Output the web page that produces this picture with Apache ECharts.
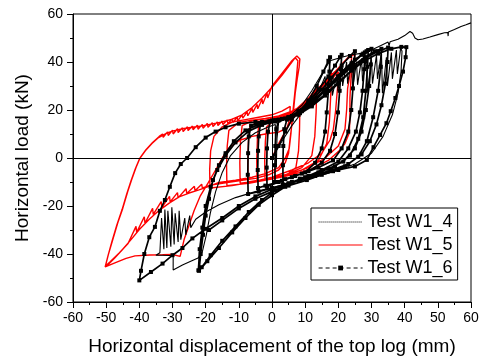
<!DOCTYPE html>
<html>
<head>
<meta charset="utf-8">
<script src="https://cdn.jsdelivr.net/npm/echarts@6/dist/echarts.min.js"></script>
<style>
html, body { margin: 0; padding: 0; background: #fff; }
#chart { width: 482px; height: 361px; }
</style>
</head>
<body>
<div id="chart"></div>
<script>
// Hysteresis of log-wall tests: horizontal displacement (mm) vs horizontal load (kN)
const xTicks = [-60, -50, -40, -30, -20, -10, 0, 10, 20, 30, 40, 50, 60];
const yTicks = [-60, -40, -20, 0, 20, 40, 60];
const seriesNames = ['Test W1_4', 'Test W1_5', 'Test W1_6'];

// Test W1_5: [displacement, load]
const w1_5 = [
  [0,0],[2,6],[4,11],[6,16],[8.4,21],
  [8.3,12],[8,3],[7.2,-4],[4,-7.5],[0,-8.5],[-2.1,-9],
  [-2.2,-1],[-2,7],[-1.6,13],[0.5,15.5],[4,17],[8,20.5],[11,25],[13.5,29],
  [13.3,19],[12.9,9],[12,1],[9,-4],[4,-7],[-1,-8.5],[-4.5,-9.5],
  [-4.6,-1],[-4.4,8],[-4,14],[-1,15.5],[3,16.8],[7,19.5],[11,24],[15,30],[18,35.5],
  [17.7,26],[17.3,15],[16.5,6],[14,-1],[9,-5],[3,-7.5],[-3,-9],[-7.2,-10],
  [-7.3,-2],[-7.1,7],[-6.6,13.5],[-3,15.3],[1,16.5],[6,18.5],[10,22.5],[14,28],[18,34],[21,39],[23,42],[25,43.2],
  [24.8,41],[23.8,33],[23.5,25],[23.5,17],[23.3,10.4],[22,6],[20.5,3.3],[17,-1],[12,-4.5],[6,-7],[0,-8.8],[-5,-9.8],[-9.6,-10.5],
  [-9.7,-2],[-9.5,7],[-9,13.5],[-6,15.5],[-2,16.3],[3,17.5],[7,20],[11,25],[15,30.5],[19,36],[22,40.5],[24,42.5],
  [23.8,37],[22.8,29],[22.5,20],[22,12],[20,5],[16,0],[11,-4],[5,-7],[-1,-9],[-7,-10.5],[-13.6,-11.5],
  [-13.7,-3],[-13.5,5],[-13,11.5],[-10,14.8],[-6,15.8],[-2,16.5],[2,17.5],[6,19.5],[10,22.5],[14,27],[17.5,32],[20,36],
  [19.8,30],[19.2,20],[18.5,12],[17.5,7.5],[15,2],[11,-2],[6,-5],[0,-8],[-6,-10],[-12,-11.5],[-18.7,-12.5],
  [-18.8,-5],[-18.5,3],[-17.5,9],[-15,13],[-12,15],[-8,16],[-4,17],[0,18],[3,19.5],[5.5,21.5],
  [5.3,16],[4.5,12.5],[2,10.8],[-2,10],[-6,9],[-9.5,7.5],[-12.7,4.6],[-15,0],[-17,-5],[-19.3,-10.5],[-21.7,-16],[-23.5,-22],[-25,-28],[-26.5,-34],[-27.7,-41],
  [-30,-40.2],[-33,-40.3],[-36.8,-40.4],[-41.3,-40.8],[-44,-41.8],[-47,-43.5],[-50.3,-45.4],
  [-49.3,-40],[-48,-34],[-46.5,-27],[-45,-21],[-43.5,-14],[-42.3,-9],[-41,-4],[-39.8,0],[-38,3.5],[-36,6.5],[-34,9],
  [-33,10],[-32.8,8.6],[-31.5,10.9],[-31.3,9.4],[-30,11.6],[-29.8,10],[-28.5,12.2],[-28.3,10.6],[-27,12.6],[-26.8,11],
  [-25.5,13],[-25.3,11.4],[-24,13.3],[-23.8,11.8],[-22.5,13.7],[-22.3,12],[-21,14],[-20.8,12.4],[-19.5,14.4],[-19.3,12.8],
  [-18,14.7],[-17.8,13.1],[-16.5,15],[-16.3,13.5],[-15,15.4],[-14.8,13.9],[-13.5,15.8],[-13.3,14.3],[-12,16.3],[-11.8,14.8],
  [-10.5,17],[-10.3,15.6],[-9,18],[-8.8,16.6],[-7.5,19.2],[-7.3,17.6],[-6,20.7],[-5.8,19],[-4.5,22.3],[-4.3,20.5],
  [-3,24.5],[-2.8,22.5],[-1.5,27],[-1.3,25],[0,30],[2,33.5],[4,37],[6,40.5],[7.5,42.5],[8.4,41.3],
  [8.2,38],[7.6,33],[7,27],[6.5,20],[6,14],[5.4,7.5],[5,2],[4,-2],[2,-5],[-1,-7],[-5,-8.5],[-10,-9.5],[-15,-10.5],[-18.4,-11.3],
  [-21,-12.5],[-21.2,-10.9],[-23.2,-13.6],[-23.4,-11.8],[-25.7,-14.8],[-25.9,-12.8],[-28.3,-16.6],[-28.5,-14.4],
  [-30.7,-18.3],[-30.9,-16],[-33.2,-20.6],[-33.4,-18.2],[-35.8,-23.5],[-36,-21],[-38.3,-27.2],[-38.5,-24.5],[-40.8,-31],
  [-41,-28.5],[-43.4,-35.6],[-46,-39.5],[-48.8,-43.2],[-50.2,-45],
  [-49.5,-41],[-48.3,-35],[-46.8,-28],[-45.2,-21.5],[-43.8,-15],[-42.5,-9.5],[-41.2,-4.5],[-40,-0.5],[-38.2,3],[-36.2,6],
  [-34.2,8.5],[-32,10.2],[-30,11.2],[-27,12.2],[-24,12.8],[-21,13.4],[-18,14.2],[-15,15],[-12,16.2],[-9,18],[-6,21],[-3,25],
  [0,29.5],[3,34.5],[5.5,39],[7,41.8],[7.8,40.5],[7.4,34],[6.8,26],[6.2,18],[5.7,10],[5.2,4],[4,0],[2,-4],[-2,-6.5],[-6,-8],
  [-11,-9.2],[-16,-10.2],[-19,-11.8],[-22,-13.3],[-25,-14.6],[-28,-16.2],[-31,-18.8],[-34,-21.8],[-37,-25.5],[-40,-29.8],
  [-42.5,-34],[-45,-38],[-47.5,-41.8],[-50,-45.2]
];

// Test W1_6: [displacement, load]
const w1_6 = [
  [0,0],[2,5],[4,11],[6,16],[8.4,19.5],[11,24],[13.5,30],[15.5,36],[17,40.5],[17.5,42],
  [17.3,36],[17,28],[16.5,19],[16,11],[15,4],[13,-2],[10,-6],[6,-8],[2,-10],[-2,-11.5],[-4.2,-12.5],
  [-4.3,-5],[-4.2,3],[-4,9],[-3.5,14],[-1,15.2],[2,16],[5,17],[8,19.5],[11,23.5],[14,28.5],[17,34],[19,38.5],[20.5,42],[21,43],
  [20.8,37],[20.4,28],[19.9,19],[19,10],[17.5,3],[15,-2],[11,-5.5],[7,-7.5],[3,-9.5],[-1.5,-12],
  [-1.6,-4],[-1.5,4],[-1.2,11],[-0.5,15.3],[3,16.3],[6,17.5],[9,20],[12,24],[15,28.5],[18,33.5],[21,38.5],[23.5,42.5],[25,44.5],
  [24.8,38],[24.4,29],[23.9,20],[23,11],[21,4],[18.4,-1],[14,-4],[9,-6.5],[4,-8.8],[0.9,-10],
  [0.9,-3],[1,5],[1.3,12],[2,15.7],[5,16.7],[8.4,18.7],[12,22.5],[16,28],[20,33.5],[24,39],[27.5,43.5],[29,45],
  [28.8,38],[28.3,28],[27.5,17],[26,8],[23.5,1],[19,-3.5],[14,-6],[8.4,-8.6],[4,-12],[0,-15.5],[-4,-19.5],[-8,-25],[-12,-31],
  [-16,-37.5],[-19.5,-43],[-22,-47],
  [-21.5,-40],[-20.8,-32],[-20,-24],[-19,-17],[-17.8,-9.2],[-16,-3],[-14,2],[-11.5,7],[-8,11.5],[-4,14],[0,15.3],[4,16.5],
  [8,19],[12,23],[16,28],[20,33],[24,38],[28,42],[31,44.5],[33,45.5],
  [32.8,38],[32,28],[30.5,17],[28.6,7],[26,0.5],[22,-3.5],[18.4,-5.5],[13,-7.5],[8.4,-9.2],[3.3,-11],
  [3.3,-3],[3.4,5],[3.7,12],[4.5,16],[8,18],[12,21.5],[16,26],[20,31],[24,36.5],[28,41.5],[32,44.5],[35,46],
  [34.8,40],[34.2,31],[33,22],[31.5,14],[29.5,7],[27,1.5],[23,-2.5],[18,-5],[12,-7.5],[6,-10],[1,-13.5],[-3,-17.5],[-7,-22.5],
  [-11,-28.5],[-15,-34.5],[-18.5,-40.5],[-21.2,-45.5],[-22.2,-46.8],
  [-21.8,-38],[-21,-29],[-20,-20],[-18.5,-12],[-16.5,-5],[-14,1],[-11,6.5],[-7.2,11],[-3,13.8],[1,15.2],[5,16.5],
  [9,19.5],[13,24.5],[17,30],[21,36],[25,41],[28.5,44.5],[30,45.5],
  [29.8,39],[29.3,30],[28.3,20],[27,11],[25,4],[21.5,-1.5],[17,-4.5],[11,-7.5],[5,-10.5],[0,-12.5],[-4,-14],[-7.2,-15],
  [-7.3,-7],[-7.2,2],[-7,9],[-6.3,13.5],[-3,15],[1,15.8],[5,17],[8.4,19.2],[12,23],[16,28.5],[20,34],[24,39.5],[27,43],[28,44],
  [27.8,37],[27.3,28],[26.5,19],[25.3,11],[23,4],[20,-1.5],[15,-5],[10,-8],[5,-10.8],[0,-13],[-5,-16],[-10,-20],[-15,-25],
  [-20,-29.5],[-24,-33.5],[-27,-37.5],[-30,-40.5],[-33,-44],[-36.5,-47.5],[-40,-51],
  [-39.5,-47],[-38.5,-40],[-37,-33],[-35.3,-28.7],[-33.8,-22],[-32.3,-17.5],[-30.8,-12],[-29.2,-6.3],[-27.5,-2.5],[-25.6,0],
  [-23,4.5],[-20,8.5],[-17,11],[-14,12.8],[-10,14.3],[-5,15],[0,15.6],[5,16.8],[8.4,18.7],[12,22],[16,26.5],[20,31.5],
  [24,36.5],[28,40.5],[32,43.5],[36,45.5],[39,46.3],[40.5,46.2],
  [40.3,42],[39.5,36],[38.3,30],[37.2,25],[35.8,19.5],[34.5,14.5],[32.6,9.6],[30.6,4.5],[28.6,-0.8],[25,-3.5],[20,-5],[15,-7],
  [10.5,-9.2],[5,-11.5],[0,-14],[-5,-17],[-10,-21],[-15,-26],[-19,-30]
];

// Test W1_4: [displacement, load]
const w1_4 = [
  [0,0],[3,7],[6,13.5],[9,19],[12,24.5],[14.5,29],
  [16,34],[16.3,27],[18,33],[18.2,26],[19.6,35],[19.9,28],[21,38],[21.3,30],[22.5,40],[22.8,31],[24,41],[24.3,29],
  [25.5,40],[25.8,30.5],[27,41.5],[27.3,32],[28.5,42],[28.8,28],[30,41],[30.3,31],[31.5,43],[31.8,33],[33,44],[33.3,27],
  [34.5,42],[34.8,30],[36,44],[36.3,33],[37.5,45],[37.8,35],[38.8,46],[39.2,44.5],
  [38.9,36],[38,27],[36.3,18],[33.5,9],[30,2],[25,-2.5],[19,-5.5],[13,-8],[7,-10],[1,-12],[-5,-14],[-11,-16.5],[-16,-19.5],
  [-20,-22.5],[-23,-25.5],
  [-24.5,-29],[-24.8,-24],[-26,-32],[-26.3,-25],[-27.5,-34],[-28,-22],[-28.3,-35],[-29.2,-23],[-29.5,-36],[-30.2,-20.5],
  [-30.5,-37],[-31.4,-22],[-31.7,-37.5],[-32.3,-21.5],[-32.6,-38],[-33.3,-25],[-33.8,-39.5],[-35,-40.5],
  [-33,-40.5],[-31,-40.6],[-29.8,-40.7],[-29.8,-46.7],[-27,-44.6],[-24.5,-43],[-22.3,-41.7],[-21,-39],[-19.8,-32],
  [-18.6,-23],[-17,-14],[-15,-6],[-12.5,1],[-9,6.5],[-5,10.5],[-1,13],[1,14],
  [1,3],[1.3,-4],[1.5,8],[2,14.8],
  [5,17],[9,22],[12,28],[15,35],[17.5,40.5],[21,42],[24,43],[27.4,43.7],[30,45],[33,47],[35,48.3],[35.3,46.8],[35.6,48.4],
  [38,49.5],[40,51],[41.6,52.7],[42.4,52],[43.1,50],[44,49.3],[45.5,49.6],[47.6,50.4],[50,51.4],[52,52.2],[53,52.3],
  [53.1,50.8],[53.2,52.5],[55,53.5],[57,54.8],[58.5,55.5],[60,56.3]
];

const chart = echarts.init(document.getElementById('chart'), null, { renderer: 'canvas' });
const font = 'Liberation Sans, Arial, sans-serif';

function axisCommon() {
  return {
    type: 'value',
    min: -60,
    max: 60,
    axisLine: { show: true, onZero: false, lineStyle: { color: '#000', width: 1 } },
    axisTick: { show: true, inside: false, length: 6, lineStyle: { color: '#000', width: 1 } },
    minorTick: { show: true, splitNumber: 2, length: 3, lineStyle: { color: '#000', width: 1 } },
    splitLine: { show: false },
    axisLabel: { color: '#000', fontSize: 14, fontFamily: font }
  };
}

const xAxis = Object.assign(axisCommon(), {
  interval: 10,
  name: 'Horizontal displacement of the top log (mm)',
  nameLocation: 'middle',
  nameGap: 35,
  nameTextStyle: { color: '#000', fontSize: 19, fontFamily: font }
});
xAxis.axisLabel = Object.assign({}, xAxis.axisLabel, {
  margin: 9,
  formatter: v => (xTicks.indexOf(v) >= 0 ? String(v) : '')
});

const yAxis = Object.assign(axisCommon(), {
  interval: 20,
  name: 'Horizontal load (kN)',
  nameLocation: 'middle',
  nameGap: 40,
  nameTextStyle: { color: '#000', fontSize: 19, fontFamily: font }
});
yAxis.axisLabel = Object.assign({}, yAxis.axisLabel, {
  margin: 10,
  formatter: v => (yTicks.indexOf(v) >= 0 ? String(v) : '')
});

// legend entries without a marker hide the default symbol
const noMarker = { color: 'rgba(0,0,0,0)', borderWidth: 0, opacity: 0 };

chart.setOption({
  animation: false,
  backgroundColor: '#fff',
  grid: { left: 73, right: 11, top: 14, bottom: 59, show: true, borderColor: '#000', borderWidth: 1, backgroundColor: 'transparent' },
  xAxis: xAxis,
  yAxis: yAxis,
  legend: {
    orient: 'vertical',
    left: 311,
    top: 208,
    padding: [5, 5, 3, 7],
    itemWidth: 44,
    itemHeight: 6,
    itemGap: 5,
    backgroundColor: '#fff',
    borderColor: '#000',
    borderWidth: 1,
    borderRadius: 0,
    textStyle: { color: '#000', fontSize: 18, fontFamily: font, lineHeight: 18 },
    data: [
      { name: seriesNames[0], itemStyle: noMarker, lineStyle: { type: 'dotted', width: 1 } },
      { name: seriesNames[1], itemStyle: noMarker, lineStyle: { width: 1.2 } },
      { name: seriesNames[2], lineStyle: { type: [4, 3], width: 1.2 } }
    ]
  },
  series: [
    {
      name: 'zero lines',
      type: 'line',
      data: [],
      silent: true,
      markLine: {
        silent: true,
        symbol: ['none', 'none'],
        label: { show: false },
        lineStyle: { color: '#000', width: 1, type: 'solid' },
        emphasis: { disabled: true },
        data: [{ xAxis: 0 }, { yAxis: 0 }]
      }
    },
    {
      name: seriesNames[1],
      type: 'line',
      data: w1_5,
      symbol: 'none',
      color: '#ff0000',
      lineStyle: { color: '#ff0000', width: 1.4 }
    },
    {
      name: seriesNames[2],
      type: 'line',
      data: w1_6,
      symbol: 'rect',
      symbolSize: 4,
      showAllSymbol: true,
      color: '#000',
      itemStyle: { color: '#000' },
      lineStyle: { color: '#000', width: 1.7 }
    },
    {
      name: seriesNames[0],
      type: 'line',
      data: w1_4,
      symbol: 'none',
      color: '#000',
      lineStyle: { color: '#000', width: 1.1 }
    }
  ]
});
</script>
</body>
</html>
